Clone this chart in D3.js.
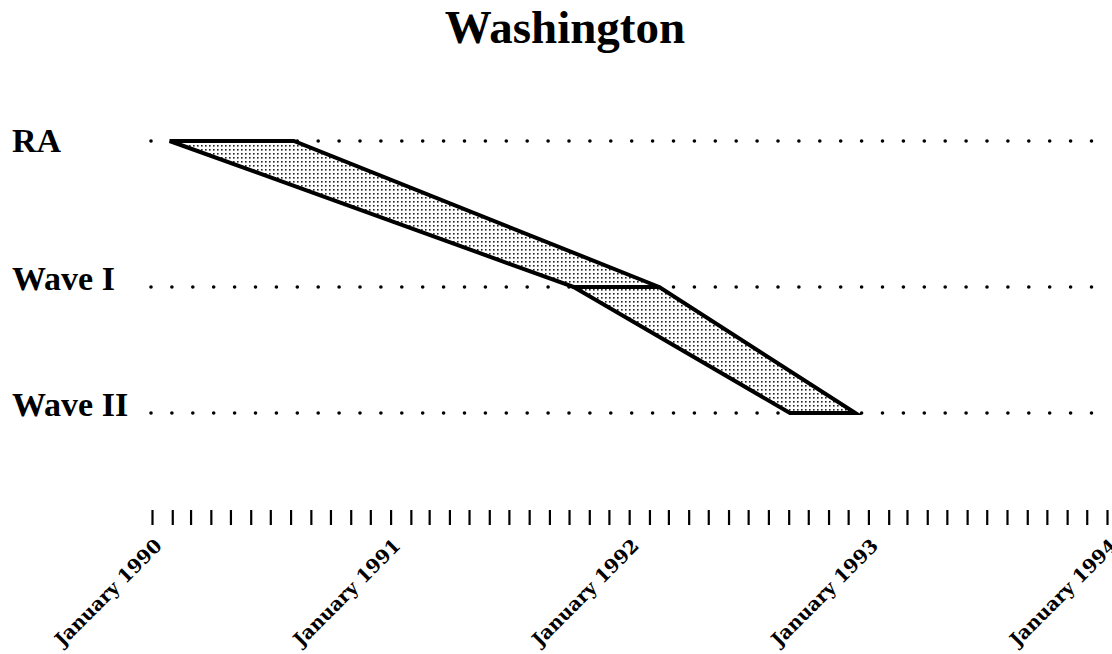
<!DOCTYPE html>
<html>
<head>
<meta charset="utf-8">
<script src="https://cdn.jsdelivr.net/npm/d3@7"></script>
<style>
  html, body { margin: 0; padding: 0; background: #fff; }
  svg { display: block; }
</style>
</head>
<body>
<svg id="chart" width="1112" height="654"></svg>
<script>
// ---- data ----
const title = "Washington";
const rows = ["RA", "Wave I", "Wave II"];
const startDates = ["1990-01-28", "1991-10-08", "1992-09-03"];
const endDates   = ["1990-08-06", "1992-02-16", "1992-12-12"];
const axisDomain = ["1990-01-01", "1994-01-01"];
const tickLabelDates = ["1990-01-01", "1991-01-01", "1992-01-01", "1993-01-01", "1994-01-01"];

// ---- setup ----
const parse = d3.timeParse("%Y-%m-%d");
const fmt = d3.timeFormat("%B %Y");
const svg = d3.select("#chart");
const W = 1112, H = 654;

const x = d3.scaleTime()
  .domain(axisDomain.map(parse))
  .range([152, 1107]);

// row y positions (slightly non-uniform in the original)
const y = d3.scaleOrdinal().domain(rows).range([141, 287, 413]);
const labelBaseline = d3.scaleOrdinal().domain(rows).range([152, 290, 416]);

const serif = "'Liberation Serif', 'Times New Roman', serif";

// pattern for stippled fill
const defs = svg.append("defs");
const pat = defs.append("pattern")
  .attr("id", "stipple")
  .attr("patternUnits", "userSpaceOnUse")
  .attr("width", 4).attr("height", 4);
pat.append("rect").attr("width", 4).attr("height", 4).attr("fill", "#fff");
pat.append("rect").attr("x", 1).attr("y", 1).attr("width", 1.6).attr("height", 1.6).attr("fill", "#222");

// title
svg.append("text")
  .attr("x", 565).attr("y", 43)
  .attr("text-anchor", "middle")
  .style("font-family", serif)
  .style("font-weight", "bold")
  .style("font-size", "47px")
  .text(title);

// row labels
svg.selectAll(".rowlabel")
  .data(rows)
  .join("text")
  .attr("class", "rowlabel")
  .attr("x", 12)
  .attr("y", d => labelBaseline(d))
  .style("font-family", serif)
  .style("font-weight", "bold")
  .style("font-size", "34px")
  .text(d => d);

// dotted guide lines
svg.selectAll(".guide")
  .data(rows)
  .join("line")
  .attr("class", "guide")
  .attr("x1", 151).attr("x2", W)
  .attr("y1", d => y(d)).attr("y2", d => y(d))
  .attr("stroke", "#000")
  .attr("stroke-width", 3.6)
  .attr("stroke-linecap", "round")
  .attr("stroke-dasharray", "0,20.9");

// band polygons between consecutive rows
const pts = rows.map((r, i) => ({
  y: y(r),
  x0: x(parse(startDates[i])),
  x1: x(parse(endDates[i]))
}));
const polys = d3.pairs(pts).map(([a, b]) => [
  [a.x0, a.y], [a.x1, a.y], [b.x1, b.y], [b.x0, b.y]
]);
svg.selectAll(".band")
  .data(polys)
  .join("path")
  .attr("class", "band")
  .attr("d", d => "M" + d.map(p => p.join(",")).join("L") + "Z")
  .attr("fill", "url(#stipple)")
  .attr("stroke", "#000")
  .attr("stroke-width", 4)
  .attr("stroke-linejoin", "miter");

// axis: monthly ticks
const axis = d3.axisBottom(x)
  .ticks(d3.timeMonth.every(1))
  .tickSize(15)
  .tickFormat("");
const gAxis = svg.append("g")
  .attr("transform", "translate(0,510)")
  .call(axis);
gAxis.select(".domain").remove();
gAxis.selectAll(".tick line")
  .attr("stroke", "#000")
  .attr("stroke-width", 2.2);

// rotated year labels
svg.selectAll(".xlabel")
  .data(tickLabelDates.map(parse))
  .join("text")
  .attr("class", "xlabel")
  .attr("transform", d => `translate(${x(d) + 11},547) rotate(-45)`)
  .attr("text-anchor", "end")
  .style("font-family", "'DejaVu Serif', serif")
  .style("font-weight", "bold")
  .style("font-size", "19px")
  .text(d => fmt(d));
</script>
</body>
</html>
